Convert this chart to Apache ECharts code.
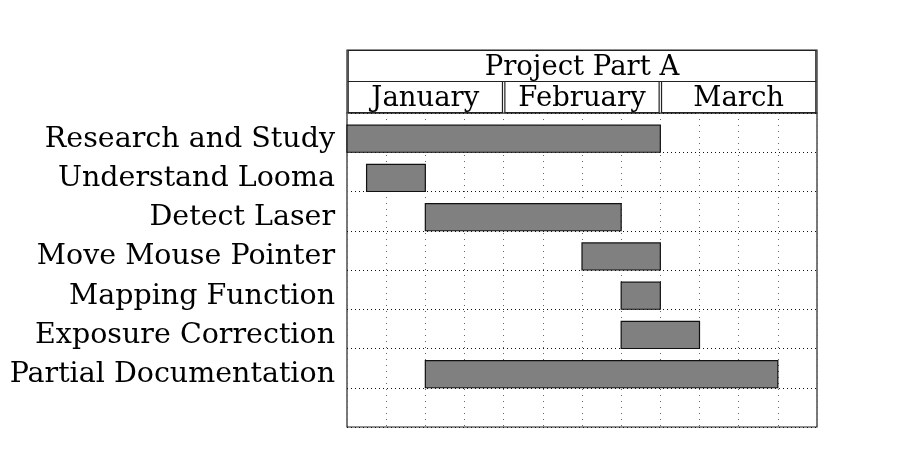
<!DOCTYPE html>
<html><head><meta charset="utf-8">
<script src="https://cdn.jsdelivr.net/npm/echarts@6/dist/echarts.min.js"></script>
<style>html,body{margin:0;padding:0;background:#fff}#c{width:911px;height:470px}</style>
</head><body><div id="c"></div>
<script>
const chartTitle = 'Project Part A';
const tasks = ['Research and Study','Understand Looma','Detect Laser','Move Mouse Pointer','Mapping Function','Exposure Correction','Partial Documentation'];
const taskStart = [0, 0.5, 2, 6, 7, 7, 2];
const taskEnd = [8, 2, 7, 8, 8, 9, 11];
const months = ['January','February','March'];
const monthStart = [0, 4, 8];
const monthEnd = [4, 8, 12];
const weekCount = 12;

const FONT = 'DejaVu Serif';
const FS = 28.5;
const HFS = 27.5;
const rows = tasks.concat(['']);

const chart = echarts.init(document.getElementById('c'), null, {renderer:'canvas'});

function headerItem(params, api){
  const s = api.value(0), e = api.value(1), r = api.value(2);
  const p0 = api.coord([s, r]);
  const p1 = api.coord([e, r + 1]);
  const inset = 1.2;
  const x0 = p0[0] + inset, x1 = p1[0] - inset;
  const y0 = p0[1] + (r === 0 ? 0.5 : 0), y1 = p1[1] - (r === 0 ? 0 : 0.5);
  const label = params.seriesId === 'title' ? chartTitle : months[params.dataIndex];
  return {type:'group', children:[
    {type:'rect', shape:{x:x0, y:y0, width:x1-x0, height:y1-y0}, style:{fill:'#fff', stroke:'#222', lineWidth:1.2}},
    {type:'text', style:{text:label, x:(x0+x1)/2, y:(y0+y1)/2 + 2, align:'center', verticalAlign:'middle', textAlign:'center', textVerticalAlign:'middle', font: HFS + 'px "' + FONT + '"', fill:'#000'}}
  ]};
}

chart.setOption({
  animation:false,
  backgroundColor:'#fff',
  grid:[
    {left:347, top:113, width:470, height:314, show:true, borderColor:'#222', borderWidth:1.2, backgroundColor:'#fff'},
    {left:347, top:50, width:470, height:63, show:true, borderColor:'#222', borderWidth:1.2, backgroundColor:'#fff'}
  ],
  xAxis:[
    {type:'value', gridIndex:0, min:0, max:weekCount, interval:1,
     axisLabel:{show:false}, axisTick:{show:false}, axisLine:{show:false},
     splitLine:{show:true, lineStyle:{color:'#666', width:1, type:[1,5]}}},
    {type:'value', gridIndex:1, min:0, max:weekCount, show:false, splitLine:{show:false}}
  ],
  yAxis:[
    {type:'category', gridIndex:0, data:rows, inverse:true,
     axisLine:{show:false}, axisTick:{show:false},
     axisLabel:{margin:12, formatter:function(v){ return v ? '{t|' + v + '}' : ''; },
       rich:{t:{fontFamily:FONT, fontSize:FS, color:'#000', padding:[13,0,0,0]}}},
     splitLine:{show:true, interval:0, lineStyle:{color:'#111', width:1, type:[1,3]}}},
    {type:'value', gridIndex:1, min:0, max:2, inverse:true, show:false, splitLine:{show:false}}
  ],
  series:[
    {type:'custom', id:'tasks', xAxisIndex:0, yAxisIndex:0,
     data: tasks.map((t,i)=>[taskStart[i], taskEnd[i], i]),
     encode:{x:[0,1], y:2},
     renderItem:function(params, api){
       const s = api.value(0), e = api.value(1), r = api.value(2);
       const p0 = api.coord([s, r]);
       const p1 = api.coord([e, r]);
       const band = api.size([0,1])[1];
       const top = p0[1] - band/2 + band*0.31;
       const bottom = p0[1] + band/2;
       return {type:'rect', shape:{x:p0[0], y:top, width:p1[0]-p0[0], height:bottom-top},
               style:{fill:'#808080', stroke:'#111', lineWidth:1.2}};
     }},
    {type:'custom', id:'title', xAxisIndex:1, yAxisIndex:1,
     data:[[0, weekCount, 0]], encode:{x:[0,1], y:2}, renderItem:headerItem},
    {type:'custom', id:'months', xAxisIndex:1, yAxisIndex:1,
     data: months.map((m,i)=>[monthStart[i], monthEnd[i], 1]), encode:{x:[0,1], y:2}, renderItem:headerItem}
  ]
});
</script>
</body></html>
